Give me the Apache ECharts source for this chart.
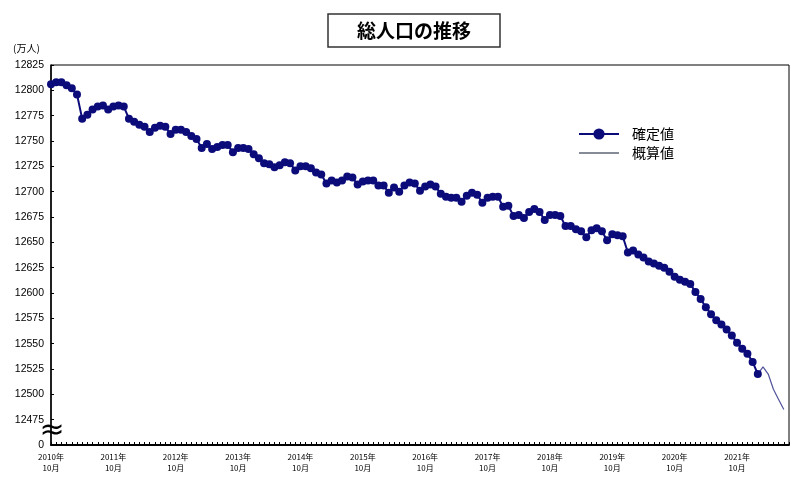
<!DOCTYPE html>
<html>
<head>
<meta charset="utf-8">
<title>総人口の推移</title>
<script src="https://cdn.jsdelivr.net/npm/echarts@6/dist/echarts.min.js"></script>
<style>
    html, body { margin: 0; padding: 0; background: #fff; }
    #main { width: 800px; height: 480px; }
</style>
</head>
<body>
<div id="main"></div>
<script>
// 月次カテゴリ（2010年10月～2022年8月）
var months = [];
for (var k = 0; k < 143; k++) {
    var m = 10 + k;
    var yy = 2010 + Math.floor((m - 1) / 12);
    var mm = (m - 1) % 12 + 1;
    months.push(yy + '年' + mm + '月');
}

// 確定値（万人）2010年10月～2022年2月
var confirmedValues = [
    12806, 12808, 12808, 12805, 12802, 12796, 12772, 12776, 12781, 12784, 12785, 12781,
    12784, 12785, 12784, 12772, 12769, 12766, 12764, 12759, 12763, 12765, 12764, 12757,
    12761, 12761, 12759, 12755, 12752, 12743, 12747, 12742, 12744, 12746, 12746, 12739,
    12743, 12743, 12742, 12737, 12733, 12728, 12727, 12724, 12726, 12729, 12728, 12721,
    12725, 12725, 12723, 12719, 12717, 12708, 12711, 12709, 12711, 12715, 12714, 12707,
    12710, 12711, 12711, 12706, 12706, 12699, 12704, 12700, 12706, 12709, 12708, 12701,
    12705, 12707, 12705, 12698, 12695, 12694, 12694, 12690, 12696, 12699, 12697, 12689,
    12694, 12695, 12695, 12685, 12686, 12676, 12677, 12674, 12680, 12683, 12680, 12672,
    12677, 12677, 12676, 12666, 12666, 12663, 12661, 12655, 12662, 12664, 12661, 12652,
    12658, 12657, 12656, 12640, 12642, 12638, 12635, 12631, 12629, 12627, 12625, 12621,
    12616, 12613, 12611, 12609, 12601, 12594, 12586, 12579, 12573, 12569, 12564, 12558,
    12551, 12545, 12540, 12532, 12520
];

// 概算値（万人）2022年2月～2022年7月
var estimateStart = 136;
var estimateValues = [12520, 12527, 12520, 12505, 12495, 12485];

// 縦軸目盛（12450 は「0」として表示、軸の省略）
var yMin = 12450;
var yMax = 12825;
var yStep = 25;

var names = ['確定値', '概算値'];

function buildSeries(values, offset) {
    var arr = [];
    for (var i = 0; i < months.length; i++) {
        var j = i - offset;
        arr.push(j >= 0 && j < values.length ? values[j] : null);
    }
    return arr;
}

var chart = echarts.init(document.getElementById('main'));
var option = {
    backgroundColor: '#fff',
    animation: false,
    title: {
        text: '総人口の推移',
        left: 328,
        top: 14,
        padding: [7, 29, 7, 29],
        borderColor: '#333',
        borderWidth: 1.5,
        textStyle: {
            fontFamily: 'Noto Sans CJK JP',
            fontSize: 19,
            fontWeight: 'bold',
            color: '#000'
        }
    },
    legend: {
        orient: 'vertical',
        left: 573,
        top: 122,
        itemWidth: 40,
        itemHeight: 14,
        itemGap: 5,
        data: [{
            name: names[0]
        }, {
            name: names[1],
            itemStyle: { opacity: 0 },
            lineStyle: { color: '#5c6474', width: 1.5 }
        }],
        textStyle: {
            fontFamily: 'Noto Sans CJK JP',
            fontSize: 14,
            color: '#000',
            padding: [0, 0, 0, 8]
        }
    },
    grid: {
        left: 51,
        top: 65,
        right: 11,
        bottom: 35,
        show: true,
        borderColor: '#000',
        borderWidth: 1
    },
    xAxis: {
        type: 'category',
        data: months,
        boundaryGap: false,
        axisLine: { lineStyle: { color: '#000', width: 2 } },
        axisTick: {
            interval: 0,
            inside: true,
            length: 3,
            lineStyle: { color: '#000' }
        },
        axisLabel: {
            interval: 11,
            margin: 6,
            color: '#000',
            fontFamily: 'Noto Sans CJK JP',
            fontSize: 8,
            lineHeight: 11,
            formatter: function(value) {
                var p = value.split('年');
                return p[0] + '年\n' + p[1];
            }
        },
        splitLine: { show: false }
    },
    yAxis: {
        type: 'value',
        min: yMin,
        max: yMax,
        interval: yStep,
        axisLine: { show: true, lineStyle: { color: '#000', width: 1.5 } },
        axisTick: { show: true, inside: true, length: 3, lineStyle: { color: '#000' } },
        axisLabel: {
            color: '#000',
            fontFamily: 'Liberation Sans',
            fontSize: 10.5,
            margin: 7,
            formatter: function(v) {
                return v === yMin ? '0' : String(v);
            }
        },
        splitLine: { show: false }
    },
    graphic: [{
        type: 'text',
        left: 13,
        top: 43,
        style: {
            text: '(万人)',
            font: '10px "Noto Sans CJK JP"',
            fill: '#000'
        }
    }, {
        type: 'text',
        x: 52,
        y: 431,
        z: 100,
        style: {
            text: '≈',
            font: '30px "DejaVu Sans"',
            fill: '#000',
            align: 'center',
            verticalAlign: 'middle'
        }
    }],
    series: [{
        name: names[0],
        type: 'line',
        data: buildSeries(confirmedValues, 0),
        symbol: 'circle',
        symbolSize: 8,
        showSymbol: true,
        showAllSymbol: true,
        connectNulls: false,
        z: 3,
        lineStyle: { color: '#0b0b7a', width: 2 },
        itemStyle: { color: '#0b0b7a' }
    }, {
        name: names[1],
        type: 'line',
        data: buildSeries(estimateValues, estimateStart),
        symbol: 'none',
        z: 2,
        lineStyle: { color: '#50539a', width: 1.2 },
        itemStyle: { color: '#50539a' }
    }]
};
chart.setOption(option);
</script>
</body>
</html>
